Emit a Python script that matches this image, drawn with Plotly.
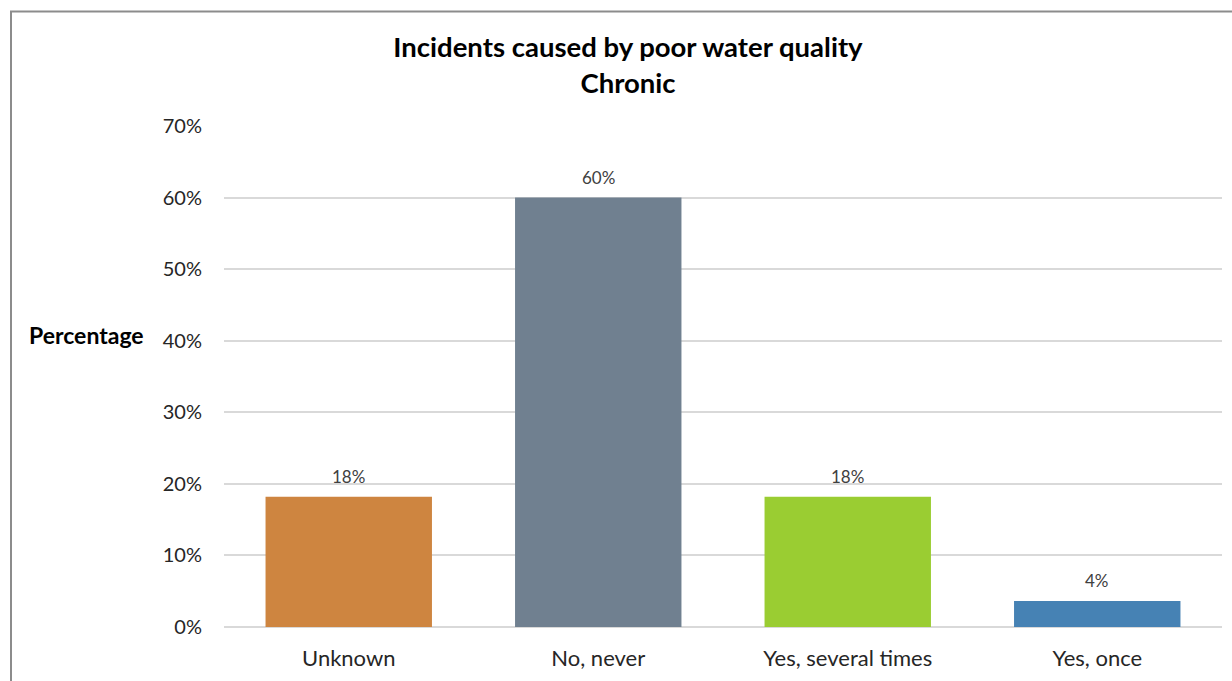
import plotly.graph_objects as go

# Survey responses (share of 55 respondents)
categories = ["Unknown", "No, never", "Yes, several times", "Yes, once"]
shares = [10 / 55, 33 / 55, 10 / 55, 2 / 55]
bar_colors = ["#CE8540", "#708090", "#9ACD32", "#4682B4"]
y_ticks = [0, 0.1, 0.2, 0.3, 0.4, 0.5, 0.6, 0.7]

FONT = "Lato, Carlito, Calibri, sans-serif"
W, H = 1232, 681
L, R, T, B = 224, 10, 126, 52

fig = go.Figure(
    go.Bar(
        x=categories,
        y=shares,
        marker=dict(color=bar_colors, line=dict(width=0)),
        width=0.667,
        hoverinfo="skip",
    )
)

pw, ph = W - L - R, H - T - B


def px_x(p):
    return (p - L) / pw


def px_y(p):
    return (H - B - p) / ph


# value labels above each bar, formatted from the bar value itself
value_labels = [
    dict(
        x=c,
        y=v,
        xref="x",
        yref="y",
        text=f"{v:.0%}",
        showarrow=False,
        yanchor="middle",
        yshift=20,
        font=dict(family=FONT, size=17, color="#404040"),
    )
    for c, v in zip(categories, shares)
]

fig.update_layout(
    width=W,
    height=H,
    margin=dict(l=L, r=R, t=T, b=B),
    paper_bgcolor="white",
    plot_bgcolor="white",
    showlegend=False,
    font=dict(family=FONT, color="#262626"),
    title=dict(
        text="<b>Incidents caused by poor water quality<br>Chronic</b>",
        x=628 / W,
        xanchor="center",
        y=1 - 57 / H,
        yanchor="middle",
        font=dict(family=FONT, size=27.5, color="#000000"),
    ),
    xaxis=dict(
        showgrid=False,
        showline=False,
        tickfont=dict(family=FONT, size=22, color="#262626"),
        ticklabelstandoff=16,
    ),
    yaxis=dict(
        range=[0, 0.7],
        tickvals=y_ticks,
        tickformat=".0%",
        showgrid=True,
        gridcolor="#D9D9D9",
        gridwidth=1.5,
        zeroline=True,
        zerolinecolor="#D9D9D9",
        zerolinewidth=2,
        showline=False,
        tickfont=dict(family=FONT, size=20, color="#262626"),
        ticklabelstandoff=21,
    ),
    annotations=value_labels
    + [
        dict(
            text="<b>Percentage</b>",
            xref="paper",
            yref="paper",
            x=px_x(146),
            y=px_y(336),
            xanchor="right",
            yanchor="middle",
            showarrow=False,
            font=dict(family=FONT, size=23, color="#000000"),
        )
    ],
    shapes=[
        dict(
            type="rect",
            xref="paper",
            yref="paper",
            x0=px_x(11),
            x1=px_x(W + 20),
            y0=px_y(H + 20),
            y1=px_y(11),
            line=dict(color="#8C8C8C", width=2),
            fillcolor="rgba(0,0,0,0)",
            layer="below",
        )
    ],
)

fig.write_html("out.html")
